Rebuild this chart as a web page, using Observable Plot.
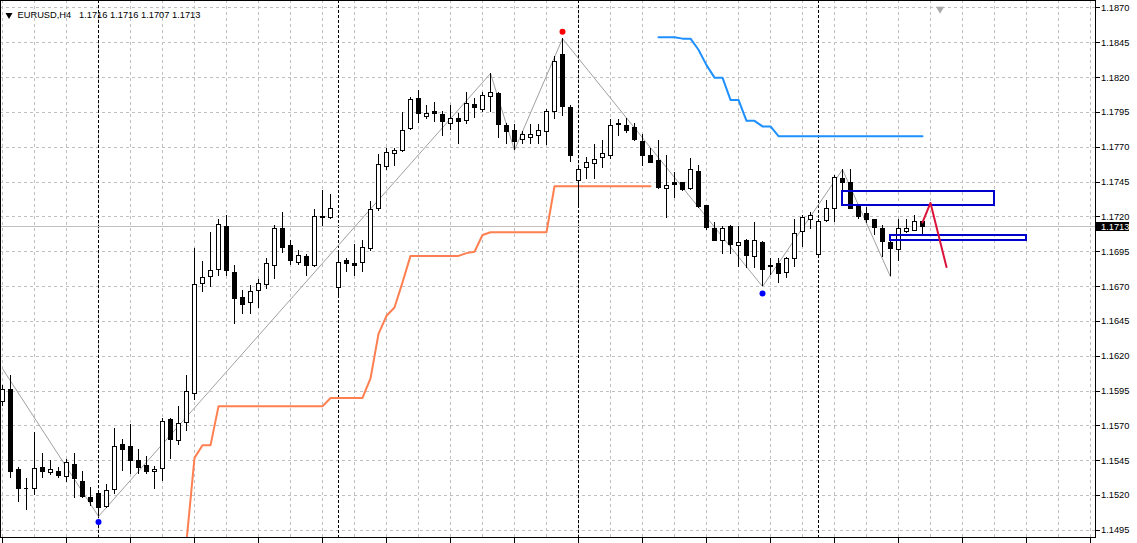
<!DOCTYPE html>
<html><head><meta charset="utf-8">
<script src="https://cdn.jsdelivr.net/npm/d3@7"></script>
<script src="https://cdn.jsdelivr.net/npm/@observablehq/plot@0.6"></script>
<style>
html,body{margin:0;padding:0;background:#fff;}
#chart svg{display:block;}
</style></head><body><div id="chart"></div>
<script>
// ---- H4 EURUSD candles (bar index = position in arrays) ----
const opens = [1.1587,1.1596,1.1538,1.1525,1.1525,1.1540,1.1536,1.1537,1.1533,1.1542,
1.1530,1.1518,1.1521,1.1512,1.1524,1.1556,1.1555,1.1545,1.1541,1.1537,
1.1539,1.1574,1.1559,1.1572,1.1593,1.1672,1.1677,1.1682,1.1713,1.1680,
1.1662,1.1658,1.1667,1.1671,1.1685,1.1711,1.1699,1.1687,1.1691,1.1685,
1.1719,1.1719,1.1669,1.1688,1.1686,1.1687,1.1697,1.1726,1.1756,1.1765,
1.1767,1.1783,1.1805,1.1792,1.1795,1.1793,1.1787,1.1790,1.1789,1.1800,
1.1797,1.1806,1.1808,1.1785,1.1782,1.1775,1.1777,1.1778,1.1781,1.1795,
1.1836,1.1798,1.1746,1.1755,1.1758,1.1762,1.1764,1.1787,1.1785,1.1784,
1.1774,1.1764,1.1760,1.1740,1.1744,1.1744,1.1740,1.1752,1.1728,1.1711,
1.1703,1.1713,1.1699,1.1703,1.1691,1.1701,1.1685,1.1686,1.1680,1.1690,
1.1709,1.1718,1.1693,1.1717,1.1726,1.1747,1.1744,1.1727,1.1722,1.1718,
1.1711,1.1701,1.1696,1.1709,1.1710,1.1716];
const highs = [1.1599,1.1606,1.1540,1.1532,1.1565,1.1550,1.1545,1.1540,1.1546,1.1550,
1.1537,1.1526,1.1522,1.1528,1.1568,1.1560,1.1571,1.1553,1.1548,1.1541,
1.1575,1.1575,1.1584,1.1606,1.1697,1.1688,1.1709,1.1718,1.1721,1.1685,
1.1667,1.1671,1.1675,1.1690,1.1714,1.1723,1.1703,1.1696,1.1693,1.1725,
1.1739,1.1736,1.1694,1.1690,1.1700,1.1703,1.1731,1.1765,1.1769,1.1769,
1.1795,1.1806,1.1811,1.1800,1.1802,1.1796,1.1800,1.1794,1.1809,1.1805,
1.1809,1.1823,1.1809,1.1787,1.1786,1.1781,1.1786,1.1786,1.1797,1.1835,
1.1848,1.1800,1.1756,1.1763,1.1772,1.1775,1.1790,1.1790,1.1791,1.1787,
1.1779,1.1769,1.1775,1.1764,1.1752,1.1745,1.1762,1.1757,1.1728,1.1716,
1.1713,1.1714,1.1713,1.1704,1.1716,1.1702,1.1690,1.1690,1.1691,1.1718,
1.1721,1.1723,1.1718,1.1732,1.1750,1.1754,1.1754,1.1728,1.1727,1.1718,
1.1714,1.1703,1.1718,1.1718,1.1721,1.1716];
const lows = [1.1584,1.1532,1.1515,1.1509,1.1520,1.1532,1.1534,1.1532,1.1529,1.1518,
1.1518,1.1512,1.1505,1.1511,1.1521,1.1537,1.1535,1.1535,1.1535,1.1524,
1.1530,1.1546,1.1556,1.1566,1.1588,1.1666,1.1669,1.1677,1.1677,1.1643,
1.1650,1.1650,1.1654,1.1668,1.1675,1.1694,1.1685,1.1685,1.1677,1.1684,
1.1713,1.1718,1.1663,1.1680,1.1677,1.1680,1.1695,1.1724,1.1753,1.1756,
1.1766,1.1782,1.1787,1.1790,1.1788,1.1778,1.1782,1.1772,1.1786,1.1791,
1.1795,1.1795,1.1776,1.1772,1.1768,1.1772,1.1772,1.1772,1.1771,1.1790,
1.1792,1.1759,1.1727,1.1747,1.1747,1.1755,1.1761,1.1778,1.1780,1.1774,
1.1756,1.1758,1.1740,1.1719,1.1733,1.1738,1.1739,1.1726,1.1710,1.1702,
1.1693,1.1693,1.1684,1.1683,1.1683,1.1670,1.1678,1.1672,1.1676,1.1684,
1.1698,1.1711,1.1692,1.1716,1.1716,1.1739,1.1725,1.1718,1.1715,1.1707,
1.1691,1.1677,1.1688,1.1708,1.1710,1.1707];
const closes = [1.1596,1.1537,1.1525,1.1525,1.1539,1.1537,1.1538,1.1534,1.1543,1.1532,
1.1519,1.1515,1.1511,1.1523,1.1555,1.1553,1.1545,1.1540,1.1537,1.1538,
1.1573,1.1560,1.1571,1.1594,1.1671,1.1676,1.1681,1.1714,1.1681,1.1661,
1.1657,1.1666,1.1672,1.1686,1.1711,1.1698,1.1688,1.1692,1.1685,1.1720,
1.1720,1.1726,1.1687,1.1686,1.1685,1.1698,1.1725,1.1757,1.1766,1.1767,
1.1782,1.1804,1.1794,1.1794,1.1794,1.1788,1.1790,1.1788,1.1801,1.1798,
1.1807,1.1809,1.1786,1.1781,1.1774,1.1779,1.1779,1.1782,1.1795,1.1831,
1.1799,1.1764,1.1754,1.1759,1.1761,1.1765,1.1785,1.1786,1.1782,1.1775,
1.1764,1.1759,1.1741,1.1742,1.1743,1.1739,1.1754,1.1727,1.1712,1.1703,
1.1711,1.1700,1.1701,1.1692,1.1703,1.1682,1.1684,1.1679,1.1690,1.1708,
1.1719,1.1721,1.1716,1.1726,1.1748,1.1744,1.1726,1.1720,1.1718,1.1712,
1.1702,1.1697,1.1711,1.1711,1.1716,1.1713];

// ---- indicator lines ----
const orangeStart = 23;
const orangeValues = [1.1487,1.1547,1.1556,1.1556,
1.1584,1.1584,1.1584,1.1584,1.1584,1.1584,1.1584,1.1584,1.1584,1.1584,1.1584,1.1584,1.1584,1.1584,
1.1590,1.1590,1.1590,1.1590,1.1590,
1.1604,1.1636,1.1649,1.1655,1.1673,
1.1692,1.1692,1.1692,1.1692,1.1692,1.1692,1.1692,
1.1694,1.1695,1.1707,
1.1709,1.1709,1.1709,1.1709,1.1709,1.1709,1.1709,1.1709,
1.1742,1.1742,1.1742,1.1742,1.1742,1.1742,1.1742,1.1742,1.1742,1.1742,1.1742,1.1742,1.1742];
const blueStart = 82;
const blueValues = [1.1849,1.1849,1.1849,1.1848,1.1848,1.1840,1.1829,1.1820,1.1820,1.1804,
1.1804,1.1789,1.1789,1.1785,1.1785,
1.1778,1.1778,1.1778,1.1778,1.1778,1.1778,1.1778,1.1778,1.1778,1.1778,
1.1778,1.1778,1.1778,1.1778,1.1778,1.1778,1.1778,1.1778,1.1778];
const zigzagBars = [0, 12, 61, 64, 70, 95, 105, 111];
const zigzagPrices = [1.1611, 1.1505, 1.1823, 1.1768, 1.1848, 1.1670, 1.1754, 1.1677];
const highDotBars = [70];
const highDotPrices = [1.1853];
const lowDotBars = [12, 95];
const lowDotPrices = [1.1501, 1.1665];
const projBars = [115, 116, 118];
const projPrices = [1.1716, 1.1730, 1.1684];
const zoneStart = [105, 111];
const zoneEnd = [124, 128];
const zoneTop = [1.1738, 1.1707];
const zoneBottom = [1.1728, 1.1703];

// ---- axes / labels ----
const priceTicks = [1.1495,1.1520,1.1545,1.1570,1.1595,1.1620,1.1645,1.1670,1.1695,1.1720,1.1745,1.1770,1.1795,1.1820,1.1845,1.1870];
const weekStarts = [12, 42, 72, 102];
const bid = 1.1713;
const symbolLabel = "EURUSD,H4";
const ohlcLabel = ["1.1716", "1.1716", "1.1707", "1.1713"];
const shiftBar = 117.2;

// ---- build tables ----
const bars = opens.map((o, i) => ({bar: i, open: o, high: highs[i], low: lows[i], close: closes[i]}));
const bodies = bars.filter(d => d.open !== d.close);
const dojis = bars.filter(d => d.open === d.close);
const orange = orangeValues.map((v, i) => ({bar: orangeStart + i, value: v}));
const blueLine = blueValues.map((v, i) => ({bar: blueStart + i, value: v}));
const zigzag = zigzagBars.map((b, i) => ({bar: b, price: zigzagPrices[i]}));
const proj = projBars.map((b, i) => ({bar: b, price: projPrices[i]}));
const zones = zoneStart.map((s, i) => ({s, e: zoneEnd[i], t: zoneTop[i], b: zoneBottom[i]}));
const highDots = highDotBars.map((b, i) => ({bar: b, price: highDotPrices[i]}));
const lowDots = lowDotBars.map((b, i) => ({bar: b, price: lowDotPrices[i]}));

const X0 = -0.25, X1 = 136.625;
const Y0 = 1.148983, Y1 = 1.187538;
const plotH = 537;
const pricePerPx = (Y1 - Y0) / plotH;
const gridBars = d3.range(0, 137, 4);
const bottomTicks = d3.range(0, 137, 8);
const hw = 0.25;
const crisp = {shapeRendering: "crispEdges"};

const chart = Plot.plot({
  width: 1137, height: 543,
  marginLeft: 0, marginRight: 42, marginTop: 0, marginBottom: 6,
  x: {domain: [X0, X1], axis: null},
  y: {domain: [Y0, Y1], axis: null},
  style: {background: "#fff", fontFamily: "'Liberation Sans', Arial, sans-serif", fontSize: "9.3px", color: "#000", overflow: "visible"},
  marks: [
    Plot.ruleX(gridBars, {x: d => d, stroke: "#c0c0c0", strokeDasharray: "3,3", ...crisp}),
    Plot.ruleY(priceTicks, {y: d => d, stroke: "#c0c0c0", strokeDasharray: "3,3", ...crisp}),
    Plot.ruleX(weekStarts, {x: d => d, stroke: "#000", strokeDasharray: "3,2", ...crisp}),
    Plot.ruleY([bid], {y: d => d, stroke: "#c0c0c0", ...crisp}),
    Plot.line(orange, {x: "bar", y: "value", stroke: "#ff7f50", strokeWidth: 2, clip: true}),
    Plot.line(blueLine, {x: "bar", y: "value", stroke: "#1e90ff", strokeWidth: 2}),
    Plot.line(zigzag, {x: "bar", y: "price", stroke: "#a0a0a0", strokeWidth: 1}),
    Plot.ruleX(bars, {x: "bar", y1: "low", y2: "high", stroke: "#000", ...crisp}),
    Plot.rect(bodies.filter(d => d.close > d.open), {x1: d => d.bar - hw, x2: d => d.bar + hw, y1: "open", y2: "close", fill: "#fff", stroke: "#000", strokeWidth: 1, ...crisp}),
    Plot.rect(bodies.filter(d => d.close < d.open), {x1: d => d.bar - hw, x2: d => d.bar + hw, y1: "open", y2: "close", fill: "#000", stroke: "#000", strokeWidth: 1, ...crisp}),
    Plot.ruleY(dojis, {y: "open", x1: d => d.bar - hw - 0.06, x2: d => d.bar + hw + 0.06, stroke: "#000", ...crisp}),
    Plot.dot(highDots, {x: "bar", y: "price", r: 3, fill: "#ff0000", stroke: "none"}),
    Plot.dot(lowDots, {x: "bar", y: "price", r: 3, fill: "#0000ff", stroke: "none"}),
    Plot.rect(zones, {x1: "s", x2: "e", y1: "b", y2: "t", fill: "none", stroke: "#0000cd", strokeWidth: 2, ...crisp}),
    Plot.line(proj, {x: "bar", y: "price", stroke: "#dc143c", strokeWidth: 2}),
    Plot.frame({stroke: "#000", ...crisp}),
    Plot.ruleX(bottomTicks, {x: d => d, y1: Y0, y2: Y0 - 6 * pricePerPx, stroke: "#000", ...crisp}),
    Plot.axisY(priceTicks, {anchor: "right", tickSize: 4, tickPadding: 1.5, tickFormat: d => d.toFixed(4), fontSize: 9.3, ...crisp}),
    Plot.rect([bid], {x1: () => X1, x2: () => X1 + 33.5 / 8, y1: d => d - 4.5 * pricePerPx, y2: d => d + 4.5 * pricePerPx, fill: "#000", ...crisp}),
    Plot.text([bid], {frameAnchor: "right", y: d => d, dx: 5.5, text: d => d.toFixed(4), textAnchor: "start", fill: "#fff", fontSize: 9.3}),
    Plot.dot([shiftBar], {x: d => d, frameAnchor: "top", dy: 8.5, symbol: "triangle", rotate: 180, r: 3, fill: "#a9a9a9", stroke: "none"}),
    Plot.dot([symbolLabel], {frameAnchor: "top-left", dx: 8.5, dy: 14.5, symbol: "triangle", rotate: 180, r: 2.6, fill: "#000", stroke: "none"}),
    Plot.text([symbolLabel + "\u00a0\u00a0 " + ohlcLabel.join(" ")], {frameAnchor: "top-left", dx: 17, dy: 15, text: d => d, textAnchor: "start", lineAnchor: "middle", fontSize: 9.3, fill: "#000"})
  ]
});
document.getElementById("chart").appendChild(chart);
</script></body></html>
